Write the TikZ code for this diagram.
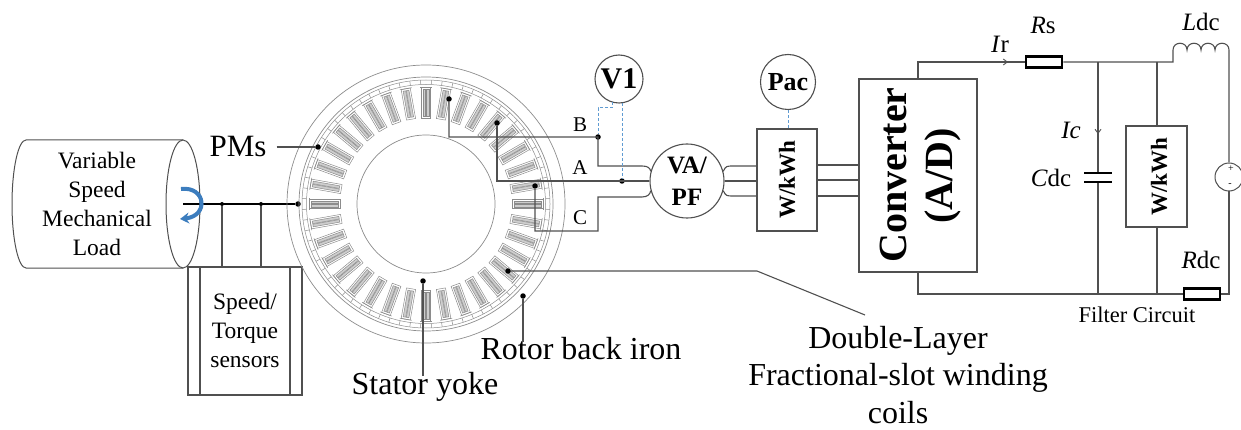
\documentclass[tikz,border=0pt]{standalone}
\usepackage{fontspec}
\setmainfont{Liberation Serif}[Ligatures=TeX]
\usetikzlibrary{arrows.meta}

\definecolor{wirec}{RGB}{80,80,80}
\definecolor{machc}{RGB}{140,140,140}
\definecolor{slotfill}{RGB}{205,205,205}
\definecolor{meterblue}{RGB}{95,155,210}
\definecolor{rotblue}{RGB}{60,125,190}

\begin{document}
\begin{tikzpicture}[x=1pt,y=-1pt,
  wire/.style={draw=wirec, line width=1.1pt},
  mline/.style={draw=machc, line width=0.7pt},
  blob/.style={circle, fill=black, inner sep=0pt, minimum size=5.5pt},
  smallblob/.style={circle, fill=black, inner sep=0pt, minimum size=4pt},
  box/.style={draw=wirec, line width=1.1pt, inner sep=0pt},
  meterring/.style={circle, draw=wirec, line width=1.1pt, inner sep=0pt, fill=white},
  meas/.style={draw=meterblue, line width=1pt, dash pattern=on 3pt off 2pt},
  resbox/.style={draw=black, line width=2.6pt, fill=white, inner sep=0pt,
                 minimum width=36pt, minimum height=11pt},
  tbig/.style={font=\fontsize{32}{38}\selectfont, inner sep=0pt, align=center},
  tmid/.style={font=\fontsize{23.5}{29}\selectfont, inner sep=0pt, align=center},
  tphase/.style={font=\fontsize{21}{24}\selectfont, inner sep=0pt},
  tcirc/.style={font=\fontsize{25}{28}\selectfont, inner sep=0pt},
  tbold/.style={font=\bfseries\fontsize{24}{31}\selectfont, inner sep=0pt, align=center}
]
\useasboundingbox (0,0) rectangle (1241,430);

% ---------------- mechanical load (cylinder) ----------------
\draw[wirec, line width=1pt]
  (183,140) -- (26,140)
  .. controls (18.3,140) and (12,168.7) .. (12,204)
  .. controls (12,239.3) and (18.3,268) .. (26,268) -- (183,268);
\draw[wirec, line width=1pt] (183,204) ellipse [x radius=17, y radius=64];
\node[tmid] (loadt) at (97,204) {Variable\\Speed\\Mechanical\\Load};

% ---------------- shaft and torque sensor ----------------
\node[box, minimum width=114pt, minimum height=128pt] (sens) at (245,331) {};
\draw[wire] (200,267) -- (200,395);
\draw[wire] (290,267) -- (290,395);
\node[tmid] (senst) at (245,330) {Speed/\\Torque\\sensors};

\coordinate (shl) at (183,204);
\node[blob] (dSh) at (298,204) {};
\node[smallblob] (s1) at (222,204) {};
\node[smallblob] (s2) at (261,204) {};
\draw[wire] (s1) -- (s1 |- sens.north);
\draw[wire] (s2) -- (s2 |- sens.north);
\draw[black, line width=2.6pt] (shl) -- (dSh);
\draw[rotblue, line width=4pt, -{Stealth[length=9pt, width=11pt]}]
  (181,189) .. controls (206,186) and (209,216) .. (180,219);

% ---------------- outer-rotor machine ----------------
\coordinate (ctr) at (426,204);
\draw[mline] (ctr) circle[radius=139];
\draw[mline] (ctr) circle[radius=127];
\draw[mline, line width=0.5pt] (ctr) circle[radius=124];
\draw[mline, line width=0.5pt] (ctr) circle[radius=119.5];
\foreach \a in {2.5,7.5,...,360}
  \draw[mline, line width=0.5pt] (ctr) ++(\a:119.5) -- ++(\a:4.5);
\draw[mline] (ctr) circle[radius=69];
\foreach \a in {0,10,...,350}{
  \begin{scope}[shift={(426,204)}, rotate=\a]
    \draw[machc, line width=0.5pt, fill=white] (86,-4.6) rectangle (117,4.6);
    \draw[machc, line width=0.5pt, fill=slotfill] (88,-2.9) rectangle (115,-0.3);
    \draw[machc, line width=0.5pt, fill=slotfill] (88,0.3) rectangle (115,2.9);
    \draw[machc, line width=0.6pt] (117,-6) -- (117,6);
  \end{scope}
}

\node[blob] (dPM) at (318,147) {};
\node[blob] (dB) at (449,99) {};
\node[blob] (dA) at (497,123) {};
\node[blob] (dC) at (535,186) {};
\node[blob] (dSY) at (423,281) {};
\node[blob] (dRB) at (523,296) {};
\node[blob] (dCoil) at (508,271) {};

% machine labels
\node[tbig, font=\fontsize{31}{36}\selectfont] (pmt) at (238,147) {PMs};
\draw[wire] ([xshift=10pt]pmt.east) -- (dPM);
\node[tbig] (syt) at (425,387) {Stator yoke};
\draw[wire] (dSY) -- ([yshift=-4pt]dSY |- syt.north);
\node[tbig] (rbt) at (581,349) {Rotor back iron};
\draw[wire] (dRB) -- ([yshift=-4pt]dRB |- rbt.north);
\node[tbig, font=\fontsize{32}{37.5}\selectfont] (dlt) at (898,375) {Double-Layer\\Fractional-slot winding\\coils};
\coordinate (dlk) at (757,271);
\coordinate (dle) at (865,315);
\draw[wire] (dCoil) -- (dlk) -- (dle);

% ---------------- phase leads and VA/PF meter ----------------
\node[meterring, minimum size=74pt] (va) at (687,181) {};
\node[tbold, font=\bfseries\fontsize{25}{32}\selectfont] (vat) at (va) {VA/\\PF};
\node[blob] (jB) at (598,137) {};
\node[blob] (jA) at (622,181) {};
\node[tphase] (lB) at (580,125) {B};
\node[tphase] (lA) at (580,168) {A};
\node[tphase] (lC) at (580,218) {C};

\draw[wire] (dB) |- (jB.center) -- (598,166) -- (642,166)
  .. controls (648,166) and (650,168) .. (va.165);
\draw[wire] (dA) |- (va.west);
\draw[wire] (dC) |- (598,231) -- (598,197) -- (642,197)
  .. controls (648,197) and (650,194) .. (va.195);

% voltmeter V1
\node[meterring, minimum size=48pt] (v1) at (619,79) {};
\node[tbold, font=\bfseries\fontsize{30}{32}\selectfont] (v1t) at (v1) {V1};
\draw[meas] (612,102) -- (612,108) -- (598,108) -- (jB);
\draw[meas] (622,102.8) -- (jA);

% ---------------- AC power meter ----------------
\node[box, minimum width=60pt, minimum height=102pt] (wm1) at (787,180) {};
\node[tbold, rotate=90, font=\bfseries\fontsize{23}{26}\selectfont] (wm1t) at (787,180) {W/kWh};
\node[meterring, minimum size=55pt] (pac) at (788,82) {};
\node[tbold, font=\bfseries\fontsize{26}{30}\selectfont] (pact) at (pac) {Pac};
\draw[meas] (pac.south) -- (wm1.north -| pac.south);

\draw[wire] (va.15) .. controls (726,166) .. (734,166) -- (wm1.west |- 0,166);
\draw[wire] (va.east) -- (wm1.west |- 0,181);
\draw[wire] (va.-15) .. controls (726,196) .. (734,196) -- (wm1.west |- 0,196);

% ---------------- converter ----------------
\node[box, minimum width=118pt, minimum height=193pt] (conv) at (918,175.5) {};
\node[rotate=90, inner sep=0pt, font=\bfseries\fontsize{40}{44}\selectfont] (convt) at (893,175) {Converter};
\node[rotate=90, inner sep=0pt, font=\bfseries\fontsize{40}{44}\selectfont] (convad) at (943,176) {(A/D)};
\draw[wire] (wm1.east |- 0,165) -- (conv.west |- 0,165);
\draw[wire] (wm1.east |- 0,180) -- (conv.west |- 0,180);
\draw[wire] (wm1.east |- 0,196) -- (conv.west |- 0,196);

% ---------------- DC filter circuit ----------------
\node[resbox] (rs) at (1044,62) {};
\node[resbox] (rdc) at (1202,294) {};
\node[circle, draw=wirec, line width=1pt, minimum size=28pt, inner sep=0pt] (src) at (1229,177) {};
\node[inner sep=0pt, font=\fontsize{10}{10}\selectfont] (srcp) at (1231,169) {+};
\node[inner sep=0pt, font=\fontsize{10}{10}\selectfont] (srcm) at (1230,185.5) {-};
\node[box, minimum width=61pt, minimum height=101pt] (wm2) at (1156.5,176.5) {};
\node[tbold, rotate=90, font=\bfseries\fontsize{23}{26}\selectfont] (wm2t) at (1159,177) {W/kWh};

\coordinate (tl) at (918,62);
\coordinate (bl) at (918,294);
\coordinate (lin) at (1173,62);
\coordinate (lst) at (1173,50);
\coordinate (lend) at (1229,50);
\coordinate (br) at (1229,294);

% top rail
\draw[wire] (conv.north) -- (tl) -- (rs.west);
\draw[wire] (rs.east) -- (lin) -- (lst)
  .. controls (1173,41) and (1187,41) .. (1187,50)
  .. controls (1187,41) and (1201,41) .. (1201,50)
  .. controls (1201,41) and (1215,41) .. (1215,50)
  .. controls (1215,41) and (1229,41) .. (lend) -- (src.north);
% bottom rail
\draw[wire] (conv.south) -- (bl) -- (rdc.west);
\draw[wire] (rdc.east) -- (br) -- (src.south);
% capacitor branch
\coordinate (cpt) at (1098,173);
\coordinate (cpb) at (1098,182);
\draw[wire] (1098,62) -- (cpt);
\draw[wire] (cpb) -- (1098,294);
\draw[black, line width=2.8pt] ([xshift=-14pt]cpt) -- ([xshift=14pt]cpt);
\draw[black, line width=2.8pt] ([xshift=-14pt]cpb) -- ([xshift=14pt]cpb);
% meter branch
\draw[wire] (1157,62) -- (wm2.north -| 1157,0);
\draw[wire] (wm2.south -| 1157,0) -- (1157,294);

% current arrows
\draw[wirec, line width=0.9pt, -{Straight Barb[length=4pt, width=6pt]}] (996,62) -- (1008,62);
\draw[wirec, line width=0.9pt, -{Straight Barb[length=4pt, width=6pt]}] (1098,122) -- (1098,134);

% circuit labels
\node[tcirc] (irl) at (1000,44) {\textit{I}r};
\node[tcirc] (rsl) at (1043,25) {\textit{R}s};
\node[tcirc] (ldl) at (1201,22) {\textit{L}dc};
\node[tcirc] (icl) at (1071,130) {\textit{Ic}};
\node[tcirc] (cdl) at (1051,178) {\textit{C}dc};
\node[tcirc] (rdl) at (1201,260) {\textit{R}dc};
\node[inner sep=0pt, font=\fontsize{22.5}{26}\selectfont] (fcl) at (1137,315) {Filter Circuit};

\end{tikzpicture}
\end{document}
